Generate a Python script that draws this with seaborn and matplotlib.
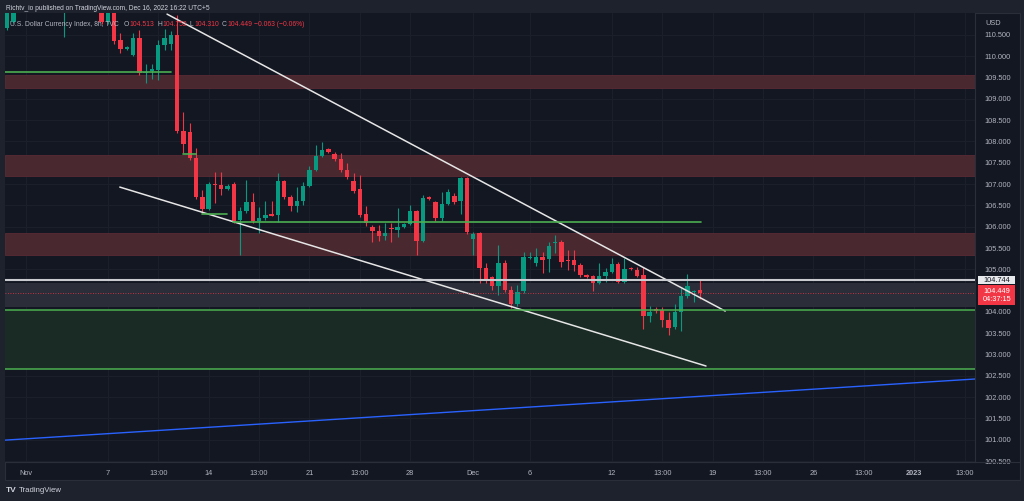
import numpy as np
import pandas as pd
import matplotlib
matplotlib.use("Agg")
import matplotlib.pyplot as plt
import seaborn as sns
from matplotlib.patches import Rectangle
from matplotlib.lines import Line2D

# ---------------- data (8h candles, TVC:DXY) ----------------
opens = [110.66, 110.81, 111.25, 111.40, 111.35, 111.48, 111.42, 111.85, 111.55, 111.70,
         111.95, 112.35, 112.60, 112.25, 111.80, 111.50, 110.81, 111.04, 110.38, 110.17,
         110.04, 110.43, 109.60, 109.65, 109.68, 110.27, 110.29, 110.50, 108.25, 108.23,
         107.61, 106.70, 106.42, 107.00, 106.98, 106.88, 107.00, 106.16, 106.37, 106.58,
         106.13, 106.20, 106.28, 106.27, 107.07, 106.70, 106.49, 106.60, 106.96, 107.33,
         107.66, 107.82, 107.70, 107.59, 107.33, 107.07, 106.88, 106.30, 106.00, 105.90,
         105.78, 105.96, 105.92, 106.00, 106.06, 106.37, 105.66, 106.68, 106.58, 106.20,
         106.53, 106.72, 106.60, 107.14, 105.71, 105.85, 105.03, 104.82, 104.61, 105.15,
         104.51, 104.18, 104.49, 105.27, 105.15, 105.29, 105.24, 105.62, 105.64, 105.22,
         105.22, 105.10, 104.87, 104.84, 104.68, 104.84, 104.94, 105.12, 104.71, 105.03,
         104.98, 104.87, 103.90, 104.07, 104.04, 103.81, 103.65, 104.00, 104.37, 104.47,
         104.513]
highs = [111.20, 111.10, 111.55, 111.62, 111.58, 111.70, 111.95, 112.20, 111.90, 112.10,
         112.50, 112.80, 112.90, 112.45, 112.00, 111.70, 111.20, 111.30, 110.55, 110.25,
         110.55, 110.62, 109.82, 109.82, 110.38, 110.64, 110.60, 110.97, 108.69, 108.43,
         107.85, 106.86, 107.05, 107.29, 107.29, 107.00, 107.05, 106.46, 107.10, 106.79,
         106.46, 106.60, 106.60, 107.26, 107.10, 106.75, 106.93, 107.05, 107.42, 107.92,
         107.99, 107.85, 107.75, 107.73, 107.50, 107.25, 107.22, 106.49, 106.04, 106.04,
         106.09, 106.09, 106.44, 106.09, 106.51, 106.40, 106.74, 106.72, 106.60, 106.81,
         106.88, 106.79, 107.16, 107.16, 105.88, 105.88, 105.15, 104.85, 105.57, 105.22,
         104.61, 104.63, 105.41, 105.40, 105.50, 105.41, 105.64, 105.80, 105.69, 105.45,
         105.45, 105.15, 104.89, 104.87, 105.15, 105.03, 105.27, 105.17, 105.27, 105.06,
         105.05, 105.05, 104.14, 104.12, 104.12, 104.00, 104.19, 104.56, 104.89, 104.52,
         104.752]
lows = [110.62, 110.78, 111.15, 111.22, 111.20, 111.30, 111.35, 111.40, 111.25, 110.45,
        111.80, 112.20, 112.10, 111.60, 111.30, 110.75, 110.75, 110.30, 110.08, 110.15,
        110.00, 109.56, 109.37, 109.47, 109.44, 110.15, 110.15, 108.20, 107.73, 107.57,
        106.65, 106.32, 106.40, 106.56, 106.74, 106.85, 106.08, 105.34, 106.32, 106.08,
        105.85, 106.16, 106.24, 106.11, 106.65, 106.37, 106.35, 106.51, 106.94, 107.30,
        107.63, 107.72, 107.54, 107.28, 107.12, 106.80, 106.23, 106.02, 105.64, 105.66,
        105.69, 105.64, 105.76, 105.97, 106.04, 105.34, 105.64, 106.62, 106.13, 106.13,
        106.50, 106.53, 106.30, 105.83, 105.34, 104.68, 104.68, 104.51, 104.40, 104.47,
        104.10, 104.15, 104.45, 105.24, 105.08, 104.91, 104.94, 105.38, 105.05, 104.98,
        104.96, 104.82, 104.80, 104.49, 104.66, 104.70, 104.91, 104.68, 104.68, 104.98,
        104.82, 103.60, 103.76, 103.98, 103.65, 103.46, 103.60, 103.55, 104.33, 104.23,
        104.310]
closes = [111.10, 111.04, 111.40, 111.35, 111.48, 111.42, 111.85, 111.55, 111.70, 111.95,
          112.35, 112.60, 112.25, 111.80, 111.50, 110.81, 111.04, 110.36, 110.17, 110.22,
          110.43, 109.61, 109.64, 109.70, 110.27, 110.43, 110.50, 108.25, 107.94, 107.61,
          106.70, 106.42, 107.00, 106.97, 106.88, 106.96, 106.13, 106.37, 106.58, 106.13,
          106.20, 106.27, 106.26, 107.07, 106.70, 106.49, 106.60, 106.96, 107.33, 107.66,
          107.80, 107.75, 107.59, 107.33, 107.17, 106.84, 106.27, 106.09, 105.90, 105.78,
          105.85, 105.94, 106.00, 106.06, 106.37, 105.66, 106.67, 106.66, 106.20, 106.53,
          106.81, 106.58, 107.14, 105.88, 105.83, 105.03, 104.73, 104.61, 105.15, 104.51,
          104.19, 104.47, 105.29, 105.30, 105.29, 105.22, 105.55, 105.64, 105.17, 105.19,
          105.10, 104.87, 104.82, 104.68, 104.84, 104.94, 105.12, 104.71, 105.01, 105.00,
          104.84, 103.90, 103.99, 104.02, 103.81, 103.62, 104.00, 104.37, 104.61, 104.50,
          104.449]

# time-axis labels and their bar positions
tick_labels = ["Nov", "7", "13:00", "14", "13:00", "21", "13:00", "28", "Dec", "6",
               "12", "13:00", "19", "13:00", "26", "13:00", "2023", "13:00"]
tick_bars = [3, 16, 24, 32, 40, 48, 56, 64, 74, 83, 96, 104, 112, 120, 128, 136, 144, 152]

price_ticks = [100.5, 101.0, 101.5, 102.0, 102.5, 103.0, 103.5, 104.0, 104.5, 105.0,
               105.5, 106.0, 106.5, 107.0, 107.5, 108.0, 108.5, 109.0, 109.5, 110.0, 110.5]

# drawings (bar index, price)
upper_trend = ([25.4, 114.0], [110.99, 104.02])
lower_trend = ([17.9, 110.95], [106.93, 102.73])
blue_trend = ([-0.32, 153.65], [100.99, 102.425])
green_levels = [(-0.3, 26.0, 109.63), (27.9, 30.0, 107.71), (31.0, 34.9, 106.30),
                (35.9, 110.2, 106.11)]
red_zones = [(109.25, 109.56), (107.19, 107.68), (105.34, 105.85)]
gray_zone = (104.11, 104.68)
green_zone = (102.66, 104.04)
resistance = 104.744
last_price = 104.449

# header legend pieces: (text, colour, x pixel)
legend_pieces = [("U.S. Dollar Currency Index, 8h, TVC", "#b2b5be", 10),
                 ("O", "#b2b5be", 124), ("104.513", "#f23645", 129),
                 ("H", "#b2b5be", 157), ("104.752", "#f23645", 162),
                 ("L", "#b2b5be", 190), ("104.310", "#f23645", 194),
                 ("C", "#b2b5be", 222), ("104.449", "#f23645", 227),
                 ("\u22120.063 (\u22120.06%)", "#f23645", 254)]

# ---------------- style ----------------
BG = "#131722"
OUTER = "#1e222d"
UP = "#089981"
DN = "#f23645"
TXT = "#b2b5be"
GRID = "#1c202b"

sns.set_theme(style="dark")
plt.rcParams["font.family"] = ["Liberation Sans", "DejaVu Sans"]

W, H = 1024, 501
fig = plt.figure(figsize=(W / 100, H / 100), dpi=100, facecolor=OUTER)

# chart panel (behind axes)
fig.patches.append(Rectangle((5 / W, 1 - 480 / H), (1020 - 5) / W, (480 - 13) / H,
                             transform=fig.transFigure, facecolor=BG, edgecolor="#2a2e39",
                             lw=0.8, zorder=-10))

ax = fig.add_axes([5 / W, 1 - 462 / H, (975 - 5) / W, (462 - 13) / H])
ax.set_zorder(1)
ax.set_facecolor(BG)
ax.set_xlim(-0.32, 153.65)
ax.set_ylim(100.477, 111.016)

# grid
ax.set_xticks(tick_bars)
ax.set_yticks(price_ticks)
ax.grid(True, color=GRID, lw=0.7)
ax.set_axisbelow(True)

# zones
x0, x1 = ax.get_xlim()
for lo, hi in red_zones:
    ax.add_patch(Rectangle((x0, lo), x1 - x0, hi - lo, facecolor="#4a2830",
                           edgecolor="#5a2c35", lw=0.6, zorder=1))
ax.add_patch(Rectangle((x0, gray_zone[0]), x1 - x0, gray_zone[1] - gray_zone[0],
                       facecolor="#2b2e39", lw=0, zorder=1))
ax.add_patch(Rectangle((x0, green_zone[0]), x1 - x0, green_zone[1] - green_zone[0],
                       facecolor="#1a2b26", lw=0, zorder=1))

# candles
df = pd.DataFrame({"open": opens, "high": highs, "low": lows, "close": closes})
df["idx"] = np.arange(len(df))
up = df["close"] >= df["open"]
cols = np.where(up, UP, DN)
ax.vlines(df["idx"], df["low"], df["high"], colors=cols, lw=0.8, zorder=3)
body = (df["close"] - df["open"]).abs().clip(lower=0.03)
ax.bar(df["idx"], body, bottom=np.minimum(df["open"], df["close"]), width=0.7,
       color=cols, lw=0, zorder=4)

# lines
sns.lineplot(x=upper_trend[0], y=upper_trend[1], ax=ax, color="#e6e6e6", lw=1.1, zorder=6)
sns.lineplot(x=lower_trend[0], y=lower_trend[1], ax=ax, color="#e6e6e6", lw=1.1, zorder=6)
sns.lineplot(x=blue_trend[0], y=blue_trend[1], ax=ax, color="#2962ff", lw=1.0, zorder=6)
for a, b, p in green_levels:
    sns.lineplot(x=[a, b], y=[p, p], ax=ax, color="#4caf50", lw=1.2, zorder=6)
for p in green_zone:
    ax.axhline(p, color="#4caf50", lw=1.1, zorder=6)
ax.axhline(resistance, color="#c8cad0", lw=1.5, zorder=6)
ax.axhline(last_price, color=DN, lw=0.6, ls=(0, (1, 2)), zorder=6)

# axes styling
for s in ["top", "left"]:
    ax.spines[s].set_visible(False)
ax.spines["right"].set_color("#2a2e39")
ax.spines["bottom"].set_color("#2a2e39")
ax.spines["right"].set_linewidth(0.8)
ax.spines["bottom"].set_linewidth(0.8)
ax.yaxis.tick_right()
ax.set_yticklabels(["" if abs(p - 104.5) < 1e-9 else f"{p:.3f}" for p in price_ticks])
ax.set_xticklabels(tick_labels)
ax.tick_params(axis="y", length=0, pad=7, labelsize=5.3, labelcolor=TXT)
ax.tick_params(axis="x", length=0, pad=6, labelsize=5.3, labelcolor=TXT)
for lab in ax.get_xticklabels():
    if lab.get_text() == "2023":
        lab.set_fontweight("bold")
ax.set_xlabel("")
ax.set_ylabel("")
leg = ax.get_legend()
if leg:
    leg.remove()

# bottom separator across full width
fig.add_artist(Line2D([5 / W, 1020 / W], [1 - 462 / H, 1 - 462 / H], color="#2a2e39",
                      lw=0.8, transform=fig.transFigure))

# price labels on right
yt = ax.get_yaxis_transform()
ax.add_patch(Rectangle((1.0035, resistance - 0.10), 0.038, 0.20, transform=yt,
                       facecolor="#e8e9ec", lw=0, clip_on=False, zorder=7))
ax.text(1.0035 + 0.019, resistance, f"{resistance:.3f}", transform=yt, ha="center",
        va="center", fontsize=5.3, color="#131722", clip_on=False, zorder=8)
ax.add_patch(Rectangle((1.0035, 104.16), 0.038, 0.46, transform=yt,
                       facecolor=DN, lw=0, clip_on=False, zorder=7))
ax.text(1.0035 + 0.019, 104.39, f"{last_price:.3f}\n04:37:15", transform=yt, ha="center",
        va="center", fontsize=5.3, color="white", clip_on=False, zorder=8,
        linespacing=1.25)
ax.text(1.0103, 110.78, "USD", transform=yt, ha="left", va="center", fontsize=5.3,
        color=TXT, clip_on=False)

# header texts
fig.text(6 / W, 1 - 8 / H, "Richtv_io published on TradingView.com, Dec 16, 2022 16:22 UTC+5",
         fontsize=4.8, color="#d1d4dc", va="center", ha="left")
for txt, col, xp in legend_pieces:
    fig.text(xp / W, 1 - 24 / H, txt, fontsize=4.9, color=col, va="center", ha="left",
             zorder=10)

# TradingView logo text
fig.text(6 / W, 1 - 491 / H, "TV", fontsize=6.0, color="#d1d4dc", fontweight="bold",
         va="center", ha="left")
fig.text(19 / W, 1 - 491 / H, "TradingView", fontsize=5.6, color="#d1d4dc",
         va="center", ha="left")

fig.savefig("out.png", dpi=100, facecolor=OUTER)
